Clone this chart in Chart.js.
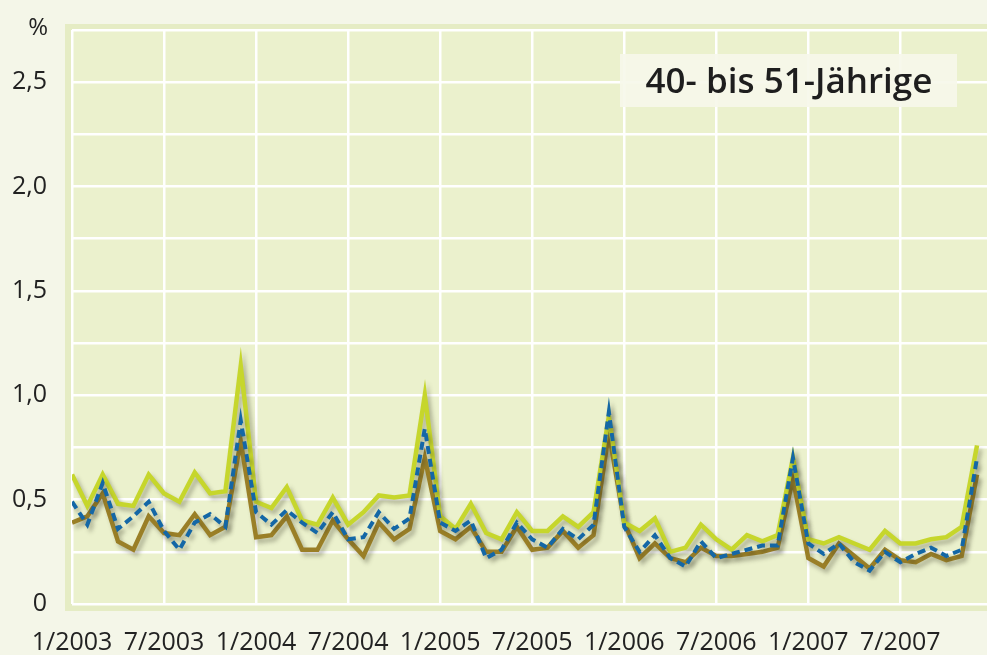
<!DOCTYPE html>
<html>
<head>
<meta charset="utf-8">
<script src="https://cdn.jsdelivr.net/npm/chart.js@4.4.1/dist/chart.umd.min.js"></script>
<style>
  html, body { margin: 0; padding: 0; background: #f4f6e8; }
  #wrap { width: 987px; height: 655px; }
</style>
</head>
<body>
<div id="wrap"><canvas id="rateChart" width="987" height="655"></canvas></div>
<script>
// monthly values 1/2003 .. 12/2007, in %
const xTickLabels = ['1/2003', '7/2003', '1/2004', '7/2004', '1/2005', '7/2005', '1/2006', '7/2006', '1/2007', '7/2007'];
const yTickLabels = ['0', '0,5', '1,0', '1,5', '2,0', '2,5'];
const panelTitle = '40- bis 51-Jährige';

const greenSeries = [
    0.62, 0.47, 0.62, 0.48, 0.47, 0.62, 0.53, 0.49, 0.63, 0.53, 0.54, 1.14,
    0.49, 0.46, 0.56, 0.40, 0.38, 0.51, 0.38, 0.44, 0.52, 0.51, 0.52, 1.00,
    0.42, 0.36, 0.48, 0.34, 0.31, 0.44, 0.35, 0.35, 0.42, 0.37, 0.44, 0.90,
    0.39, 0.35, 0.41, 0.25, 0.27, 0.38, 0.31, 0.26, 0.33, 0.30, 0.33, 0.70,
    0.31, 0.29, 0.32, 0.29, 0.26, 0.35, 0.29, 0.29, 0.31, 0.32, 0.37, 0.76
];
const blueSeries = [
    0.49, 0.38, 0.58, 0.36, 0.42, 0.49, 0.35, 0.26, 0.39, 0.43, 0.37, 0.88,
    0.44, 0.38, 0.45, 0.39, 0.34, 0.44, 0.31, 0.32, 0.44, 0.36, 0.41, 0.84,
    0.39, 0.35, 0.40, 0.22, 0.26, 0.39, 0.31, 0.27, 0.36, 0.31, 0.38, 0.92,
    0.37, 0.25, 0.33, 0.22, 0.18, 0.30, 0.22, 0.24, 0.26, 0.28, 0.28, 0.70,
    0.29, 0.24, 0.29, 0.20, 0.16, 0.25, 0.20, 0.24, 0.27, 0.23, 0.26, 0.70
];
const brownSeries = [
    0.39, 0.42, 0.53, 0.30, 0.26, 0.42, 0.34, 0.33, 0.43, 0.33, 0.37, 0.78,
    0.32, 0.33, 0.42, 0.26, 0.26, 0.40, 0.31, 0.23, 0.39, 0.31, 0.36, 0.70,
    0.35, 0.31, 0.37, 0.25, 0.25, 0.37, 0.26, 0.27, 0.35, 0.27, 0.33, 0.82,
    0.39, 0.22, 0.29, 0.22, 0.20, 0.27, 0.23, 0.23, 0.24, 0.25, 0.27, 0.60,
    0.22, 0.18, 0.29, 0.23, 0.17, 0.26, 0.21, 0.20, 0.24, 0.21, 0.23, 0.62
];

const FONT = "'Open Sans', 'DejaVu Sans', sans-serif";
const toPoints = arr => arr.map((v, i) => ({ x: i, y: v }));

// panel background, frame, "%" and the boxed title
const panelPlugin = {
    id: 'panel',
    beforeDraw(chart) {
        const { ctx, chartArea: a, width, height } = chart;
        ctx.save();
        ctx.fillStyle = '#f4f6e8';
        ctx.fillRect(0, 0, width, height);
        ctx.fillStyle = '#e5ecc4';
        ctx.fillRect(a.left - 7, a.top - 6, width - a.left + 7, a.bottom - a.top + 13);
        ctx.fillStyle = '#ebf1cd';
        ctx.fillRect(a.left, a.top, a.right - a.left, a.bottom - a.top);
        ctx.fillStyle = '#222';
        ctx.font = '24px ' + FONT;
        ctx.textAlign = 'right';
        ctx.textBaseline = 'alphabetic';
        ctx.fillText('%', 48, 35);
        ctx.restore();
    },
    afterDraw(chart) {
        const { ctx } = chart;
        ctx.save();
        ctx.fillStyle = 'rgba(246, 247, 234, 0.92)';
        ctx.fillRect(620, 54, 337, 53);
        ctx.fillStyle = '#1e1e1e';
        ctx.font = '600 35px ' + FONT;
        ctx.textAlign = 'center';
        ctx.textBaseline = 'alphabetic';
        ctx.fillText(panelTitle, 789, 93);
        ctx.restore();
    }
};

// soft drop shadow under each line
const shadowPlugin = {
    id: 'lineShadow',
    beforeDatasetDraw(chart) {
        const ctx = chart.ctx;
        ctx.save();
        ctx.shadowColor = 'rgba(60, 60, 40, 0.35)';
        ctx.shadowBlur = 4;
        ctx.shadowOffsetX = 3;
        ctx.shadowOffsetY = 4;
    },
    afterDatasetDraw(chart) {
        chart.ctx.restore();
    }
};

new Chart(document.getElementById('rateChart'), {
    type: 'line',
    data: {
        datasets: [
            { label: 'brown', data: toPoints(brownSeries), borderColor: '#9a7f27', borderWidth: 4.5, order: 3 },
            { label: 'green', data: toPoints(greenSeries), borderColor: '#c6d62c', borderWidth: 4.5, order: 2 },
            { label: 'blue', data: toPoints(blueSeries), borderColor: '#1467a6', borderWidth: 4, borderDash: [8, 5], order: 1 }
        ]
    },
    options: {
        responsive: false,
        animation: false,
        devicePixelRatio: 1,
        layout: { padding: { top: 30, right: 0, left: 0, bottom: 0 } },
        elements: {
            point: { radius: 0, hoverRadius: 0 },
            line: { tension: 0, borderJoinStyle: 'miter', fill: false, borderCapStyle: 'butt' }
        },
        plugins: { legend: { display: false }, tooltip: { enabled: false } },
        scales: {
            x: {
                type: 'linear',
                min: 0,
                max: 59.65,
                border: { display: false },
                grid: { color: '#ffffff', lineWidth: 2.5, drawTicks: false },
                ticks: {
                    stepSize: 6,
                    includeBounds: false,
                    autoSkip: false,
                    maxRotation: 0,
                    padding: 24,
                    color: '#222',
                    font: { family: FONT, size: 25 },
                    callback: v => xTickLabels[v / 6] ?? ''
                },
                afterFit: s => { s.height = 51; s.paddingLeft = 0; s.paddingRight = 0; }
            },
            y: {
                min: 0,
                max: 2.75,
                border: { display: false },
                grid: { color: '#ffffff', lineWidth: 2.5, drawTicks: false },
                ticks: {
                    stepSize: 0.25,
                    padding: 25,
                    color: '#222',
                    font: { family: FONT, size: 25 },
                    callback: v => {
                        const k = Math.round(v * 4);
                        return k % 2 === 0 && yTickLabels[k / 2] !== undefined ? yTickLabels[k / 2] : '';
                    }
                },
                afterFit: s => { s.width = 72; s.paddingTop = 0; s.paddingBottom = 0; }
            }
        }
    },
    plugins: [panelPlugin, shadowPlugin]
});
</script>
</body>
</html>
